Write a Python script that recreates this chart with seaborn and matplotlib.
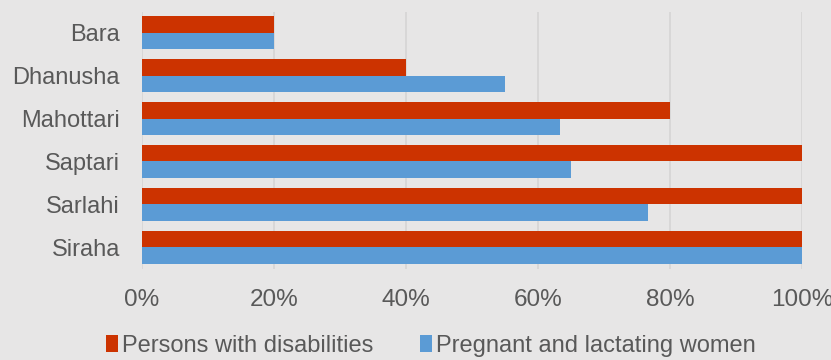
import matplotlib
matplotlib.use("Agg")
import matplotlib.pyplot as plt
import seaborn as sns
import pandas as pd
from matplotlib.ticker import FuncFormatter

districts = ["Bara", "Dhanusha", "Mahottari", "Saptari", "Sarlahi", "Siraha"]
disabilities = [20, 40, 80, 100, 100, 100]
pregnant = [20, 55, 63.3, 65, 76.7, 100]
series_names = ["Persons with disabilities", "Pregnant and lactating women"]
xticks = [0, 20, 40, 60, 80, 100]

df = pd.DataFrame({
    "District": districts * 2,
    "Value": disabilities + pregnant,
    "Group": [series_names[0]] * len(districts) + [series_names[1]] * len(districts),
})

sns.set_theme(style="white")
plt.rcParams['font.family'] = ['Liberation Sans', 'DejaVu Sans']
bg = "#e7e6e6"
txt = "#595959"

fig = plt.figure(figsize=(8.31, 3.6), dpi=100, facecolor=bg)
ax = fig.add_axes([142/831, 1-268.5/360, 660/831, 257/360])
ax.set_facecolor(bg)

sns.barplot(data=df, y="District", x="Value", hue="Group", orient="h",
            palette=["#cc3300", "#5b9bd5"], width=0.77, ax=ax,
            saturation=1, edgecolor="none")

ax.set_xlim(0, 100)
ax.set_xticks(xticks)
ax.xaxis.set_major_formatter(FuncFormatter(lambda v, p: f"{int(v)}%"))
ax.grid(axis="x", color="#d6d5d5", linewidth=1.2)
ax.set_axisbelow(True)
for s in ax.spines.values():
    s.set_visible(False)
ax.tick_params(axis="x", length=0, pad=15, labelsize=17.5, labelcolor=txt)
ax.tick_params(axis="y", length=0, pad=16, labelsize=17, labelcolor=txt)
ax.set_xlabel("")
ax.set_ylabel("")

leg = ax.legend(loc="center", bbox_to_anchor=(431/831, 1-346/360),
                bbox_transform=fig.transFigure, ncol=2, frameon=False,
                fontsize=17, handlelength=0.5, handleheight=0.7,
                handletextpad=0.15, columnspacing=2.0, labelcolor=txt,
                borderpad=0)

fig.savefig("out.png", dpi=100, facecolor=bg)
